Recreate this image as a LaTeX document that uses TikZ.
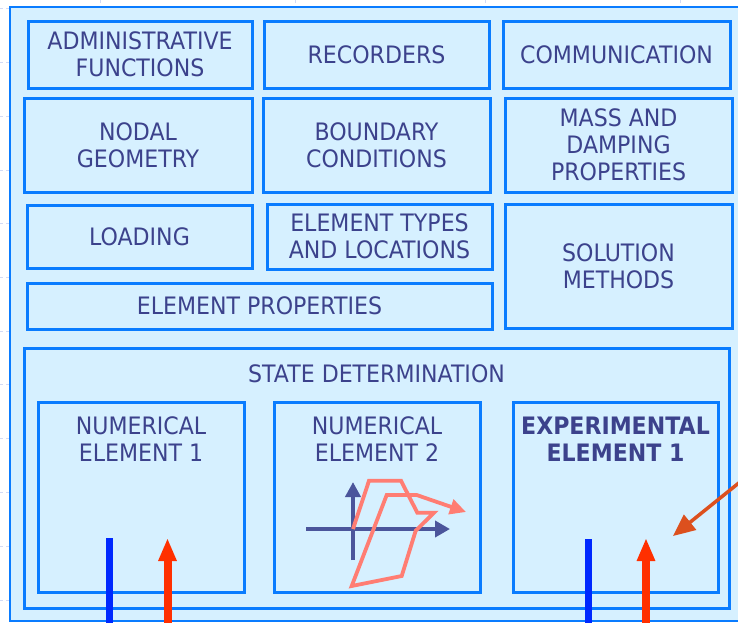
\documentclass[tikz,border=0pt]{standalone}
\usepackage{fontspec}
\setmainfont{DejaVu Sans}[FakeStretch=0.92]
\usetikzlibrary{arrows.meta}
\definecolor{bbl}{RGB}{10,124,255}
\definecolor{lbl}{RGB}{214,240,255}
\definecolor{tcol}{RGB}{60,66,140}
\definecolor{axcol}{RGB}{75,85,155}
\definecolor{salmon}{RGB}{255,125,115}
\definecolor{redarr}{RGB}{255,48,0}
\definecolor{bluebar}{RGB}{0,40,255}
\definecolor{orangearr}{RGB}{220,80,30}
\definecolor{gridc}{RGB}{210,218,245}
\begin{document}
\begin{tikzpicture}[x=1pt,y=-1pt,
  font=\fontsize{24}{27}\selectfont,
  box/.style={draw=bbl,line width=3pt,fill=lbl,text=tcol,align=center,inner sep=0pt,outer sep=0pt},
  txt/.style={text=tcol,align=center,inner sep=0pt},
  gridmark/.style={draw=gridc,line width=1pt,dashed}]
\useasboundingbox (0,0) rectangle (738,622);
\fill[white] (0,0) rectangle (738,622);
% faint background marks
\foreach \yy in {8,62,116,170,223,277,331,384,438,492,546,600}
  \draw[gridmark] (0,\yy) -- (9,\yy);
\foreach \xx in {100,295,485,680}
  \draw[gridmark] (\xx,0) -- (\xx,6);
% outer frame
\draw[draw=bbl,line width=2.5pt,fill=lbl] (10,7) rectangle (752,621);
% top boxes
\node[box,minimum width=224pt,minimum height=67pt] (admin) at (140,54.5) {ADMINISTRATIVE\\FUNCTIONS};
\node[box,minimum width=225pt,minimum height=67pt] (rec) at (376.5,54.5) {RECORDERS};
\node[box,minimum width=227pt,minimum height=67pt] (comm) at (616.5,54.5) {COMMUNICATION};
\node[box,minimum width=228pt,minimum height=94pt] (nodal) at (138,145) {NODAL\\GEOMETRY};
\node[box,minimum width=227pt,minimum height=94pt] (bound) at (376.5,145) {BOUNDARY\\CONDITIONS};
\node[box,minimum width=227pt,minimum height=94pt] (mass) at (618.5,145) {MASS AND\\DAMPING\\PROPERTIES};
\node[box,minimum width=225pt,minimum height=63pt] (load) at (139.5,236.5) {LOADING};
\node[box,minimum width=225pt,minimum height=65pt] (eltypes) at (379.5,236.5) {ELEMENT TYPES\\AND LOCATIONS};
\node[box,minimum width=465pt,minimum height=46pt] (elprop) at (259.5,306) {ELEMENT PROPERTIES};
\node[box,minimum width=227pt,minimum height=124pt] (sol) at (618.5,266) {SOLUTION\\METHODS};
% state determination
\node[box,minimum width=705pt,minimum height=260pt] (state) at (376.5,478) {};
\node[txt] (statet) at (376.5,373.5) {STATE DETERMINATION};
\node[box,minimum width=206pt,minimum height=190pt] (ne1) at (141,497) {};
\node[box,minimum width=206pt,minimum height=190pt] (ne2) at (377,497) {};
\node[box,minimum width=205pt,minimum height=190pt] (ee1) at (615.5,497) {};
\node[txt] (ne1t) at (141,439.5) {NUMERICAL\\ELEMENT 1};
\node[txt] (ne2t) at (377,439.5) {NUMERICAL\\ELEMENT 2};
\node[txt,font=\fontsize{24}{27}\selectfont\bfseries] (ee1t) at (615.5,439.5) {EXPERIMENTAL\\ELEMENT 1};
% bars and arrows in element 1
\coordinate (b1s) at (109.5,624);
\coordinate (b1t) at (109.5,538);
\coordinate (r1s) at (167.5,624);
\coordinate (r1t) at (167.5,538);
\draw[bluebar,line width=7pt] (b1s) -- (b1t);
\draw[redarr,line width=8pt,-{Triangle[length=23pt,width=17pt]}] (r1s) -- (r1t);
% bars and arrows in experimental element
\coordinate (b2s) at (588,624);
\coordinate (b2t) at (588,539);
\coordinate (r2s) at (646,624);
\coordinate (r2t) at (646,538);
\draw[bluebar,line width=7pt] (b2s) -- (b2t);
\draw[redarr,line width=8pt,-{Triangle[length=23pt,width=17pt]}] (r2s) -- (r2t);
% orange arrow
\coordinate (os) at (740,482);
\coordinate (ot) at (673,536);
\draw[orangearr,line width=3.5pt,-{Triangle[length=22pt,width=19pt]}] (os) -- (ot);
% hysteresis plot
\coordinate (o) at (353,529);
\coordinate (vb) at (353,560);
\coordinate (vt) at (353,482);
\coordinate (hl) at (306,529);
\coordinate (hr) at (450,529);
\draw[axcol,line width=4pt,-{Triangle[length=15pt,width=15pt]}] (vb) -- (vt);
\draw[axcol,line width=4pt,-{Triangle[length=15pt,width=16pt]}] (hl) -- (hr);
\coordinate (h1) at (369,480.7);
\coordinate (h2) at (401,480.7);
\coordinate (h3) at (417.3,512.7);
\coordinate (h4) at (434,512.7);
\coordinate (h5) at (415.7,530.7);
\coordinate (h6) at (401.7,576);
\coordinate (h7) at (351.7,586);
\coordinate (h8) at (386.7,495);
\coordinate (h9) at (416.7,495);
\coordinate (h10) at (466,512);
\draw[salmon,line width=3.8pt,line join=miter,-{Triangle[length=16pt,width=15pt]}]
  (o) -- (h1) -- (h2) -- (h3) -- (h4) -- (h5) -- (h6) -- (h7) -- (h8) -- (h9) -- (h10);
\end{tikzpicture}
\end{document}
